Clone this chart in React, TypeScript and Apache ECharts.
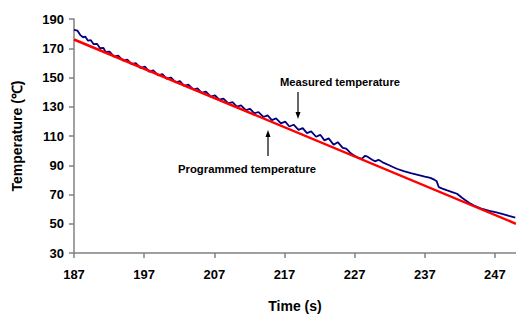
import React, { useEffect, useRef } from "react";
import * as echarts from "echarts";

const measuredTimes: number[] = [
  187.0, 187.5, 187.9, 188.3, 188.6, 189.0, 189.4, 189.8, 190.3, 190.7, 191.2, 191.5,
  192.1, 192.7, 193.3, 194.0, 194.6, 195.2, 195.8, 196.5, 197.1, 197.7, 198.3, 199.0,
  199.6, 200.2, 200.8, 201.5, 202.1, 202.7, 203.3, 204.0, 204.6, 205.2, 205.8, 206.5,
  207.1, 207.7, 208.3, 209.0, 209.6, 210.2, 210.8, 211.5, 212.1, 212.7, 213.3, 214.0,
  214.6, 215.2, 215.8, 216.5, 217.1, 217.7, 218.3, 219.0, 219.6, 220.2, 220.8, 221.5,
  222.1, 222.7, 223.3, 224.0, 224.6, 225.3, 225.8, 226.5, 227.0, 227.5, 228.0, 228.5,
  228.9, 229.5, 229.9, 230.4, 231.0, 232.0, 233.0, 234.0, 235.0, 236.0, 237.0, 237.8,
  238.4, 238.7, 239.0, 239.5, 240.2, 241.0, 241.6, 242.3, 243.3, 244.2, 245.2, 246.2,
  247.2, 248.0, 249.0, 249.9,
];
const measuredTemps: number[] = [
  182.6, 182.0, 179.0, 177.5, 178.0, 175.2, 175.5, 172.8, 173.0, 170.0, 170.2, 167.5,
  167.6, 164.3, 165.0, 161.6, 162.3, 159.1, 159.9, 156.5, 157.4, 154.0, 154.8, 151.5,
  152.3, 149.2, 150.0, 146.7, 147.5, 144.3, 145.2, 141.8, 142.6, 139.5, 140.4, 137.0,
  137.8, 134.8, 135.6, 132.3, 133.2, 130.1, 131.0, 127.7, 128.6, 125.5, 126.4, 123.0,
  124.1, 120.9, 122.0, 118.6, 119.8, 116.5, 117.7, 114.2, 115.4, 112.0, 113.2, 109.5,
  110.8, 107.0, 108.4, 104.0, 105.8, 101.9, 101.4, 98.0, 96.5, 95.2, 94.3, 96.5,
  95.7, 93.8, 92.7, 93.7, 92.0, 89.8, 87.6, 86.0, 84.6, 83.5, 82.3, 81.4,
  80.0, 79.0, 75.0, 74.0, 72.8, 71.5, 70.5, 67.8, 64.4, 62.0, 60.1, 58.8,
  57.7, 56.8, 55.4, 54.2,
];
const programmedTimes: number[] = [187, 250];
const programmedTemps: number[] = [176, 50];

const FONT = "'Liberation Sans', Arial, sans-serif";

export default function App() {
  const ref = useRef<HTMLDivElement>(null);
  useEffect(() => {
    if (!ref.current) return;
    const chart = echarts.init(ref.current, null, { renderer: "svg" });
    const axisLineStyle = { color: "#808080", width: 1.5 };
    chart.setOption({
      animation: false,
      backgroundColor: "#ffffff",
      grid: { left: 74, top: 19, right: 0, bottom: 60 },
      xAxis: {
        type: "value",
        min: 187,
        max: 250,
        interval: 10,
        name: "Time (s)",
        nameLocation: "middle",
        nameGap: 46,
        nameTextStyle: { fontFamily: FONT, fontWeight: "bold", fontSize: 14, color: "#000" },
        axisLine: { show: true, lineStyle: axisLineStyle },
        axisTick: { show: true, inside: false, length: 5, lineStyle: axisLineStyle },
        axisLabel: {
          margin: 15,
          fontFamily: FONT,
          fontWeight: "bold",
          fontSize: 13,
          color: "#000",
          showMaxLabel: false,
        },
        splitLine: { show: false },
      },
      yAxis: {
        type: "value",
        min: 30,
        max: 190,
        interval: 20,
        name: "Temperature (℃)",
        nameLocation: "middle",
        nameGap: 50,
        nameRotate: 90,
        nameTextStyle: { fontFamily: FONT, fontWeight: "bold", fontSize: 14, color: "#000" },
        axisLine: { show: true, lineStyle: axisLineStyle },
        axisTick: { show: true, inside: false, length: 5, lineStyle: axisLineStyle },
        axisLabel: {
          margin: 10,
          fontFamily: FONT,
          fontWeight: "bold",
          fontSize: 13,
          color: "#000",
        },
        splitLine: { show: false },
      },
      series: [
        {
          name: "Measured temperature",
          type: "line",
          data: measuredTimes.map((t, i) => [t, measuredTemps[i]]),
          showSymbol: false,
          symbol: "none",
          lineStyle: { color: "#000080", width: 1.8 },
          z: 2,
        },
        {
          name: "Programmed temperature",
          type: "line",
          data: programmedTimes.map((t, i) => [t, programmedTemps[i]]),
          showSymbol: false,
          symbol: "none",
          lineStyle: { color: "#ff0000", width: 2.5 },
          z: 3,
        },
      ],
      graphic: [
        {
          type: "text",
          left: 280,
          top: 76,
          style: { text: "Measured temperature", fontFamily: FONT, fontWeight: "bold", fontSize: 11.2, fill: "#000" },
        },
        { type: "line", shape: { x1: 298, y1: 92, x2: 298, y2: 113 }, style: { stroke: "#000", lineWidth: 1.2 } },
        { type: "polygon", shape: { points: [[295.5, 112], [300.5, 112], [298, 119]] }, style: { fill: "#000" } },
        {
          type: "text",
          left: 178,
          top: 163,
          style: { text: "Programmed temperature", fontFamily: FONT, fontWeight: "bold", fontSize: 11.3, fill: "#000" },
        },
        { type: "line", shape: { x1: 268, y1: 156, x2: 268, y2: 136 }, style: { stroke: "#000", lineWidth: 1.2 } },
        { type: "polygon", shape: { points: [[265.5, 137], [270.5, 137], [268, 130]] }, style: { fill: "#000" } },
      ],
    });
    return () => chart.dispose();
  }, []);
  return (
    <div
      ref={ref}
      style={{ position: "absolute", left: 0, top: 0, width: 516, height: 318, background: "#fff" }}
    />
  );
}
